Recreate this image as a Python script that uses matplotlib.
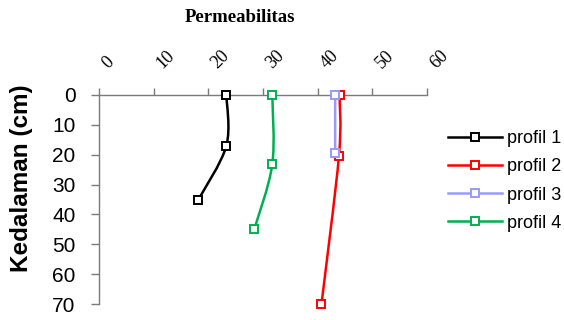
import numpy as np
import matplotlib
matplotlib.use("Agg")
import matplotlib.pyplot as plt
from matplotlib.path import Path
from matplotlib.patches import PathPatch
from matplotlib.lines import Line2D

# ---- data ----
labels = ["profil 1", "profil 2", "profil 3", "profil 4"]
perm_p1 = [23.3, 23.3, 18.2]
depth_p1 = [0, 17, 35]
perm_p2 = [44.0, 43.9, 40.7]
depth_p2 = [0, 20.3, 70]
perm_p3 = [43.2, 43.2]
depth_p3 = [0, 19.5]
perm_p4 = [31.7, 31.7, 28.4]
depth_p4 = [0, 23.2, 45]
colors = ["#000000", "#ff0000", "#9999ff", "#00b050"]
x_ticks = [0, 10, 20, 30, 40, 50, 60]
y_ticks = [0, 10, 20, 30, 40, 50, 60, 70]

series = [(perm_p1, depth_p1), (perm_p2, depth_p2), (perm_p3, depth_p3), (perm_p4, depth_p4)]

fig = plt.figure(figsize=(5.64, 3.20), dpi=100)
ax = fig.add_axes([99/564, 1-304/320, (427-99)/564, (304-95)/320])
ax.set_xlim(0, 60)
ax.set_ylim(70, 0)

axis_col = "#7a7a7a"


def smooth_path(xs, ys, t=1/6):
    pts = np.column_stack([xs, ys]).astype(float)
    n = len(pts)
    verts = [pts[0]]
    codes = [Path.MOVETO]
    for i in range(n - 1):
        p0 = pts[i - 1] if i > 0 else pts[i]
        p1 = pts[i]
        p2 = pts[i + 1]
        p3 = pts[i + 2] if i + 2 < n else pts[i + 1]
        c1 = p1 + (p2 - p0) * t
        c2 = p2 - (p3 - p1) * t
        verts += [c1, c2, p2]
        codes += [Path.CURVE4] * 3
    return Path(verts, codes)


handles = []
for (xs, ys), c, lab in zip(series, colors, labels):
    patch = PathPatch(smooth_path(xs, ys), facecolor="none", edgecolor=c, lw=1.8,
                      transform=ax.transData, clip_on=False)
    ax.add_patch(patch)
    ax.plot(xs, ys, linestyle="none", marker="s", markersize=6.3, markerfacecolor="white",
            markeredgecolor=c, markeredgewidth=1.4, clip_on=False, zorder=3)
    handles.append(Line2D([], [], color=c, lw=1.8, marker="s", markersize=6.3,
                          markerfacecolor="white", markeredgecolor=c, markeredgewidth=1.4))

# axes styling
ax.xaxis.tick_top()
for s in ["bottom", "right"]:
    ax.spines[s].set_visible(False)
for s in ["top", "left"]:
    ax.spines[s].set_color(axis_col)
    ax.spines[s].set_linewidth(1.0)

ax.set_xticks(x_ticks)
ax.set_xticklabels([str(v) for v in x_ticks], rotation=45, rotation_mode="anchor",
                   ha="left", va="top", family="Liberation Serif", fontsize=13)
ax.tick_params(axis="x", direction="out", length=5, width=1, color=axis_col, pad=20)
ax.set_yticks(y_ticks)
ax.set_yticklabels([str(v) for v in y_ticks], family="Liberation Sans", fontsize=15)
ax.tick_params(axis="y", direction="out", length=6, width=1, color=axis_col, pad=11)

ax.set_ylabel("Kedalaman (cm)", family="Liberation Sans", fontsize=17.5, fontweight="bold")
ax.yaxis.set_label_coords(-0.201, 0.60)

fig.text(240/564, 1-18/320, "Permeabilitas", family="Liberation Serif", fontsize=13.5,
         fontweight="bold", ha="center", va="center")

fig.legend(handles, labels, loc="center left", bbox_to_anchor=(448/564, 1-181/320),
           frameon=False, prop={"family": "Liberation Sans", "size": 13},
           handlelength=3.0, handletextpad=0.28, labelspacing=0.62, borderpad=0,
           borderaxespad=0)

fig.savefig("out.png", dpi=100)
